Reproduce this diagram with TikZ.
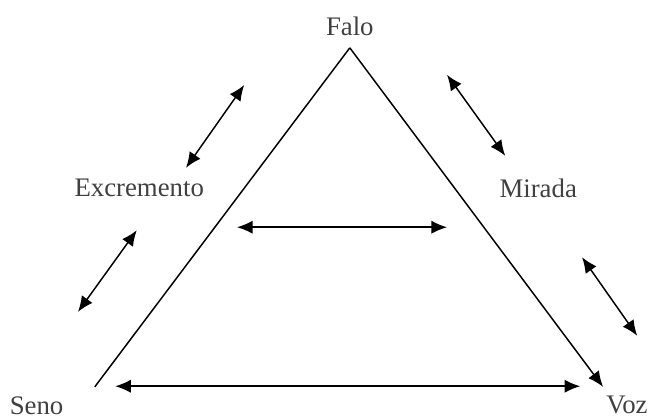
\documentclass[tikz,border=0pt]{standalone}
\usepackage{fontspec}
\setmainfont{Liberation Serif}
\usetikzlibrary{arrows.meta,calc,positioning}

\begin{document}
\begin{tikzpicture}[side/.style    ={-           ,draw, color=black, line width=0.7pt},
                    tipside/.style ={-{Latex[length=2.6mm,width=2.2mm]},draw, color=black, line width=0.7pt},
                    both/.style    ={{Latex[length=2.6mm,width=2.2mm]}-{Latex[length=2.6mm,width=2.2mm]},draw, color=black, line width=0.7pt},
                    label/.style   ={rectangle,draw opacity=0, inner sep=0, font=\fontsize{12.7}{15}\selectfont, text=black!75}]

      \useasboundingbox (0, 0) rectangle (10.833, 6.967);
      \coordinate (top)   at(5.83, 6.17);
      \coordinate (left)  at(1.58, 0.52);
      \coordinate (right) at(10.05, 0.52);
      \node[label] at($(top)  +(0, 0.36)$)      (falo)   {Falo};
      \node[label] at(2.32, 3.83)               (excr)   {Excremento};
      \node[label] at(8.97, 3.83)               (mirada) {Mirada};
      \node[label] at($(left) +(-0.97,-0.31)$)  (seno)   {Seno};
      \node[label] at($(right)+( 0.40,-0.31)$)  (voz)    {Voz};
      % arrow ends
      \coordinate (ul1) at(3.10, 4.17);  \coordinate (ul2) at(4.07, 5.55);
      \coordinate (ll1) at(1.30, 1.77);  \coordinate (ll2) at(2.28, 3.13);
      \coordinate (ur1) at(7.45, 5.72);  \coordinate (ur2) at(8.42, 4.37);
      \coordinate (lr1) at(9.70, 2.68);  \coordinate (lr2) at(10.62, 1.37);
      \coordinate (mid1) at(3.95, 3.18); \coordinate (mid2) at(7.45, 3.18);
      \coordinate (bot1) at(1.92, 0.53); \coordinate (bot2) at(9.67, 0.53);
      \path[side]    (left) -- (top);
      \path[tipside] (top)  -- (right);
      \path[both] (ul1)  -- (ul2);
      \path[both] (ll1)  -- (ll2);
      \path[both] (ur1)  -- (ur2);
      \path[both] (lr1)  -- (lr2);
      \path[both] (mid1) -- (mid2);
      \path[both] (bot1) -- (bot2);
    \end{tikzpicture}
\end{document}
